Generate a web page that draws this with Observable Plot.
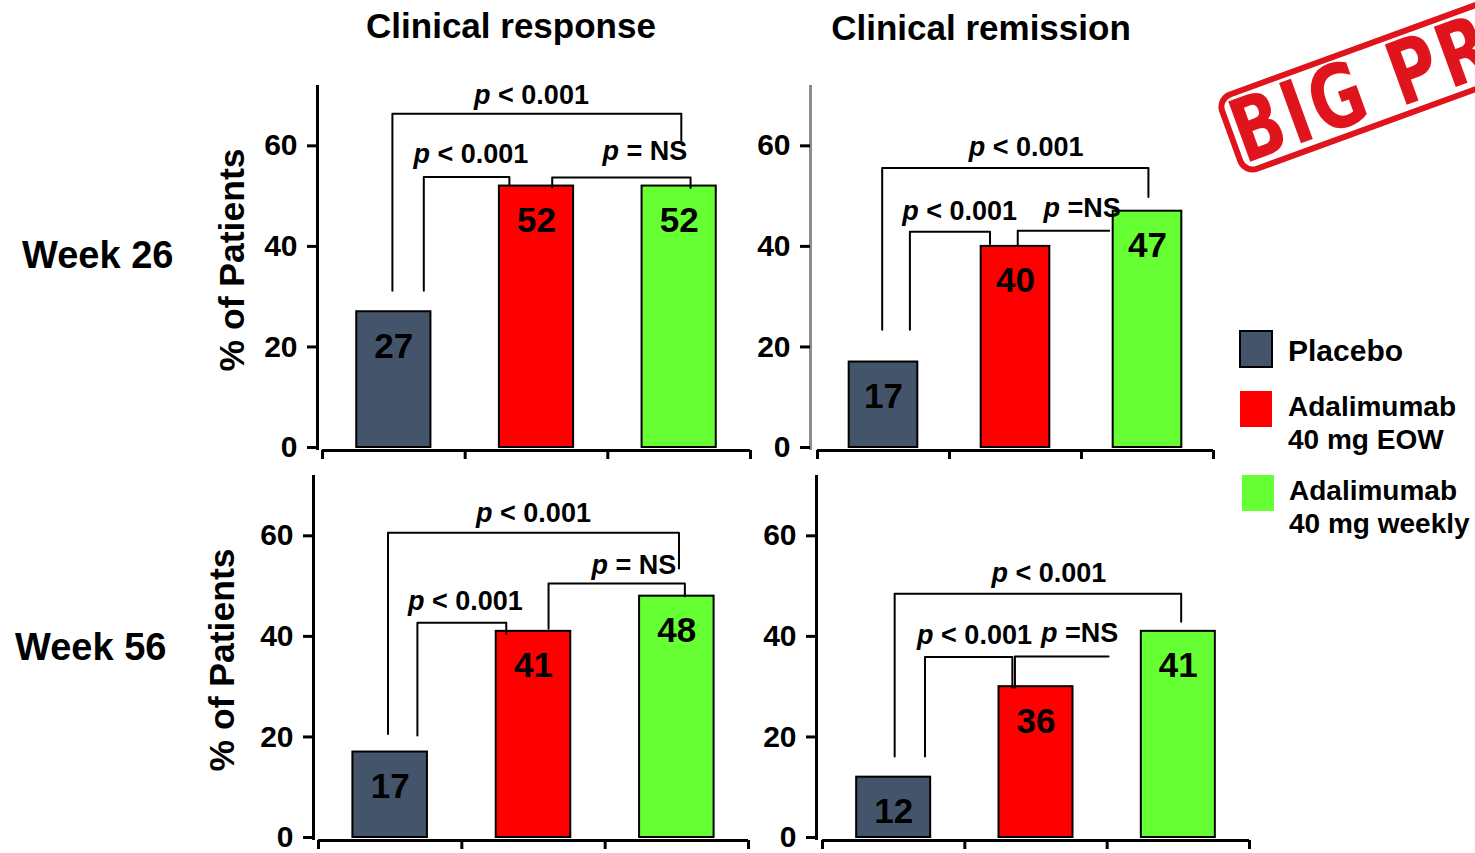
<!DOCTYPE html>
<html><head><meta charset="utf-8">
<script src="https://cdn.jsdelivr.net/npm/d3@7"></script>
<script src="https://cdn.jsdelivr.net/npm/@observablehq/plot@0.6"></script>
<style>
html,body{margin:0;padding:0;background:#fff;}
body{width:1475px;height:853px;position:relative;overflow:hidden;font-family:"Liberation Sans",Arial,Helvetica,sans-serif;font-weight:bold;color:#000;}
.abs{position:absolute;white-space:nowrap;}
.title{font-size:35px;line-height:35px;}
.row{font-size:38px;line-height:38px;}
.leg{font-size:28px;line-height:33px;}
.sw{position:absolute;box-sizing:border-box;}
#stamp{position:absolute;left:1243px;top:92px;width:440px;height:85px;box-sizing:border-box;border:6px solid #e0141c;border-radius:16px;transform-origin:0 100%;transform:rotate(-20deg);color:#e0141c;font-family:"Liberation Sans Narrow","DejaVu Sans Condensed",sans-serif;font-weight:bold;font-size:88px;line-height:74px;white-space:nowrap;overflow:visible;}
#stamp span{display:inline-block;transform-origin:0 50%;transform:scaleX(0.84);padding-left:0px;letter-spacing:4px;}
</style></head><body>
<script>
// ---- data ----
const groups = ["Placebo", "Adalimumab 40 mg EOW", "Adalimumab 40 mg weekly"];
const groupColors = ["#44546b", "#ff0000", "#66ff33"];
const columnTitles = ["Clinical response", "Clinical remission"];
const rowTitles = ["Week 26", "Week 56"];
const yLabel = "% of Patients";
const yTicks = [0, 20, 40, 60];

const response26 = [27, 52, 52];
const remission26 = [17, 40, 47];
const response56 = [17, 41, 48];
const remission56 = [12, 30, 41];          // bar heights as drawn in the source
const response26Labels = ["27", "52", "52"];
const remission26Labels = ["17", "40", "47"];
const response56Labels = ["17", "41", "48"];
const remission56Labels = ["12", "36", "41"]; // printed numbers

// significance brackets: x ends (group axis units), leg bottoms, bar top, label
const response26Brackets = [
  {xl: -0.01, xr: 2.015, top: 66.4, yl: 31.2, yr: 61.1, text: "p < 0.001", tx: 0.965, ty: 68.4},
  {xl: 0.21, xr: 0.81, top: 53.8, yl: 31.2, yr: 52.2, text: "p < 0.001", tx: 0.54, ty: 56.5},
  {xl: 1.11, xr: 2.08, top: 53.7, yl: 51.7, yr: 51.6, text: "p = NS", tx: 1.76, ty: 57.1}
];
const remission26Brackets = [
  {xl: -0.01, xr: 2.007, top: 55.6, yl: 23.4, yr: 49.8, text: "p < 0.001", tx: 1.08, ty: 57.9},
  {xl: 0.2, xr: 0.807, top: 42.9, yl: 23.4, yr: 40.5, text: "p < 0.001", tx: 0.577, ty: 45.2},
  {xl: 1.017, xr: 1.71, top: 43.1, yl: 40.2, yr: 43.1, text: "p =NS", tx: 1.505, ty: 45.8}
];
const response56Brackets = [
  {xl: -0.015, xr: 2.015, top: 60.6, yl: 20.6, yr: 53.5, text: "p < 0.001", tx: 1.0, ty: 62.8},
  {xl: 0.19, xr: 0.81, top: 42.7, yl: 20.3, yr: 40.5, text: "p < 0.001", tx: 0.525, ty: 45.3},
  {xl: 1.105, xr: 2.056, top: 50.5, yl: 41.5, yr: 48, text: "p = NS", tx: 1.70, ty: 52.5}
];
const remission56Brackets = [
  {xl: 0.007, xr: 2.02, top: 48.5, yl: 16.1, yr: 42.9, text: "p < 0.001", tx: 1.09, ty: 50.8},
  {xl: 0.22, xr: 0.834, top: 35.9, yl: 16.1, yr: 29.8, text: "p < 0.001", tx: 0.568, ty: 38.5},
  {xl: 0.852, xr: 1.51, top: 36.0, yl: 29.8, yr: 36.0, text: "p =NS", tx: 1.307, ty: 38.9}
];

const xDomain = [-0.5, 2.5];
const xBoundaries = [-0.5, 0.5, 1.5, 2.5];
const yDomain = [0, 72];
const barHalf = 0.26;
const FONT = '"Liberation Sans", Arial, Helvetica, sans-serif';

function addAbs(html, cls, style) {
  const d = document.createElement("div");
  d.className = "abs " + (cls || "");
  d.style.cssText = style;
  d.innerHTML = html;
  document.body.appendChild(d);
  return d;
}

function italicP(svg) {
  const ns = "http://www.w3.org/2000/svg";
  svg.querySelectorAll("text").forEach(t => {
    const s = t.textContent;
    if (/^p[ =<]/.test(s) && t.children.length === 0) {
      t.textContent = "";
      const a = document.createElementNS(ns, "tspan");
      a.setAttribute("font-style", "italic");
      a.textContent = "p";
      const b = document.createElementNS(ns, "tspan");
      b.textContent = s.slice(1);
      t.appendChild(a); t.appendChild(b);
    }
  });
}

function panel(cfg) {
  const bars = cfg.values.map((v, i) => ({i, v, label: cfg.labels[i], group: groups[i]}));
  const pts = cfg.brackets.flatMap((b, k) => [
    {k, x: b.xl, y: b.yl}, {k, x: b.xl, y: b.top}, {k, x: b.xr, y: b.top}, {k, x: b.xr, y: b.yr}
  ]);
  const marks = [
    Plot.rect(bars, {x1: d => d.i - barHalf, x2: d => d.i + barHalf, y1: 0, y2: "v", fill: "group", stroke: "black", strokeWidth: 2}),
    Plot.ruleX([xDomain[0]], {dx: -cfg.insetL, stroke: cfg.axisColor, strokeWidth: 3}),
    Plot.axisY({ticks: yTicks, tickSize: 10, tickPadding: 10, strokeWidth: 3, stroke: "black", fontSize: 30, fontWeight: "bold", fill: "black", label: null}),
    Plot.ruleY([0], {x1: xDomain[0], x2: xDomain[1], dy: 3, stroke: "black", strokeWidth: 3}),
    Plot.axisX({ticks: xBoundaries, tickSize: 9, tickFormat: () => "", strokeWidth: 3, stroke: "black", label: null}),
    Plot.line(pts, {x: "x", y: "y", z: "k", stroke: "black", strokeWidth: 2}),
    Plot.text(cfg.brackets, {x: "tx", y: "ty", text: "text", fontSize: 27, fontWeight: "bold", lineAnchor: "bottom", fill: "black"}),
    Plot.text(bars, {x: "i", y: "v", text: "label", dy: 46, lineAnchor: "bottom", fontSize: 35, fontWeight: "bold", fill: "black"})
  ];
  if (cfg.showYLabel) {
    marks.push(Plot.text([yLabel], {frameAnchor: "left", textAnchor: "middle", rotate: -90, dx: cfg.labelDx, dy: cfg.labelDy, fontSize: 35.5, fontWeight: "bold", fill: "black"}));
  }
  const svg = Plot.plot({
    width: cfg.width, height: cfg.height,
    marginLeft: cfg.mL, marginRight: cfg.mR, marginTop: cfg.mT, marginBottom: cfg.mB,
    insetLeft: cfg.insetL, insetBottom: 3,
    x: {type: "linear", domain: xDomain},
    y: {domain: yDomain},
    color: {domain: groups, range: groupColors},
    style: {fontFamily: FONT, fontWeight: "bold", background: "transparent", overflow: "visible", color: "black"},
    marks
  });
  italicP(svg);
  const wrap = document.createElement("div");
  wrap.className = "abs";
  wrap.style.cssText = `left:${cfg.left}px;top:${cfg.top}px;width:${cfg.width}px;height:${cfg.height}px;`;
  wrap.appendChild(svg);
  document.body.appendChild(wrap);
}

panel({values: response26, labels: response26Labels, brackets: response26Brackets,
  left: 200, top: 60, width: 560, height: 410, mL: 117, mR: 10, mT: 25, mB: 20, insetL: 5,
  axisColor: "black", showYLabel: true, labelDx: -85, labelDy: -8});
panel({values: remission26, labels: remission26Labels, brackets: remission26Brackets,
  left: 700, top: 60, width: 530, height: 410, mL: 110, mR: 17, mT: 25, mB: 20, insetL: 7,
  axisColor: "#8c8c8c", showYLabel: false});
panel({values: response56, labels: response56Labels, brackets: response56Brackets,
  left: 200, top: 455, width: 560, height: 398, mL: 113, mR: 12, mT: 20, mB: 13, insetL: 5,
  axisColor: "black", showYLabel: true, labelDx: -91, labelDy: 2});
panel({values: remission56, labels: remission56Labels, brackets: remission56Brackets,
  left: 700, top: 455, width: 560, height: 398, mL: 116, mR: 11, mT: 20, mB: 13, insetL: 6,
  axisColor: "black", showYLabel: false});

// titles
addAbs(columnTitles[0], "title", "left:356px;top:8px;width:310px;text-align:center;");
addAbs(columnTitles[1], "title", "left:821px;top:10px;width:320px;text-align:center;");
addAbs(rowTitles[0], "row", "left:22px;top:236px;");
addAbs(rowTitles[1], "row", "left:15px;top:628px;");

// legend
const legendPos = [{sx: 1239, sy: 330, w: 34, h: 38, tx: 1288, ty: 334}, {sx: 1240, sy: 391, w: 32, h: 36, tx: 1288, ty: 390}, {sx: 1242, sy: 475, w: 32, h: 36, tx: 1289, ty: 474}];
groups.forEach((g, i) => {
  const p = legendPos[i];
  const sw = document.createElement("div");
  sw.className = "sw";
  sw.style.cssText = `left:${p.sx}px;top:${p.sy}px;width:${p.w}px;height:${p.h}px;background:${groupColors[i]};` + (i === 0 ? "border:2px solid #000;" : "");
  document.body.appendChild(sw);
  const parts = g.startsWith("Adalimumab") ? ["Adalimumab", g.slice(11)] : [g];
  addAbs(parts.join("<br>"), "leg", `left:${p.tx}px;top:${p.ty}px;` + (i === 0 ? "font-size:30px;" : ""));
});

// stamp
const st = document.createElement("div");
st.id = "stamp";
st.innerHTML = "<span>BIG PRO</span>";
document.body.appendChild(st);
</script>
</body></html>
